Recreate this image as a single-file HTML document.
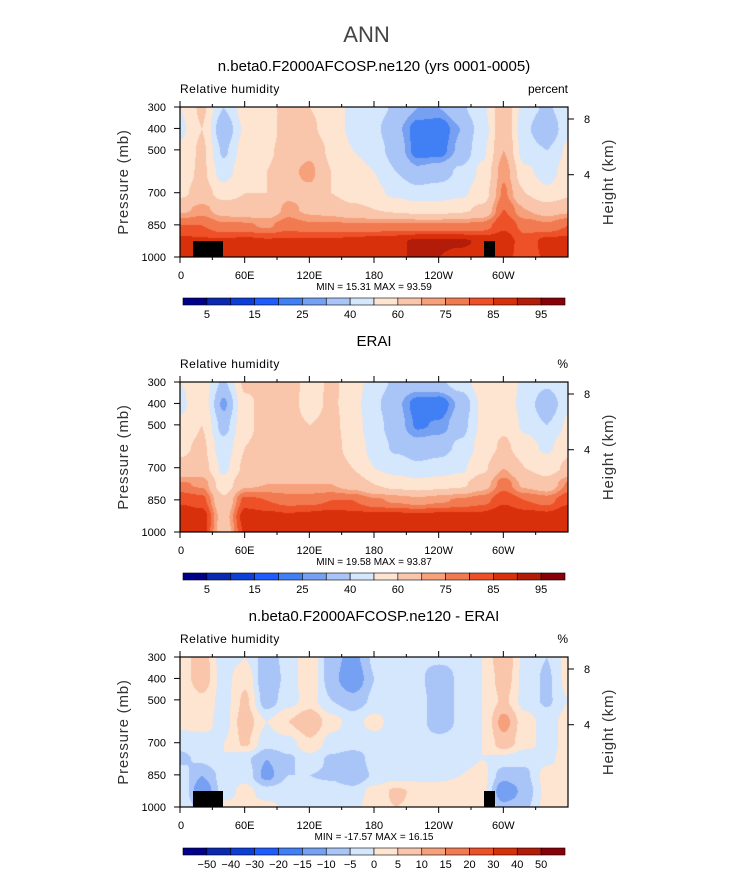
<!DOCTYPE html>
<html><head><meta charset="utf-8"><style>
body{margin:0;background:#fff;font-family:"Liberation Sans",sans-serif;}
#root{position:relative;width:733px;height:888px;overflow:hidden;}
.t{position:absolute;white-space:nowrap;color:#000;}
canvas{position:absolute;}
</style></head><body><div id="root">
<div class="t" style="left:0;width:733px;text-align:center;top:22px;font-size:22px;color:#444;">ANN</div>
<svg id="svg" width="733" height="888" style="position:absolute;left:0;top:0"></svg>
</div>
<script>
const lons=[0,20,40,60,80,100,120,140,160,180,200,220,240,260,280,300,320,340,360];
const levels=[300,400,500,600,700,775,850,925,1000];
const modelRH=[
[50,62,40,55,55,65,60,55,48,45,38,30,30,38,48,68,45,38,48],
[48,60,32,52,55,65,62,55,48,42,32,22,20,30,45,68,42,30,48],
[52,62,38,55,58,65,68,58,50,45,35,22,22,32,48,70,45,40,52],
[55,62,45,58,60,68,72,60,55,50,40,32,35,42,52,74,52,46,55],
[58,64,56,60,60,68,68,60,56,52,48,44,45,48,55,76,60,52,58],
[68,72,66,64,64,72,68,66,62,60,58,56,56,58,62,80,70,66,68],
[80,80,76,76,74,78,76,76,76,76,76,76,76,76,77,84,78,76,80],
[87,86,86,87,86,86,86,86,87,88,89,91,91,91,89,88,82,87,87],
[86,86,86,86,85,86,86,86,86,88,90,90,90,88,87,87,82,86,86]];
const eraiRH=[
[50,55,38,62,63,66,55,62,55,45,38,35,38,45,55,55,48,42,50],
[48,58,28,58,63,64,56,62,54,42,32,22,20,32,52,56,46,32,48],
[52,60,36,58,63,64,60,63,55,44,34,24,26,36,52,58,48,40,52],
[58,62,44,60,63,64,63,63,57,46,38,34,36,42,54,62,54,48,58],
[62,64,48,62,64,64,64,64,60,50,46,42,44,48,58,70,60,56,62],
[76,74,54,68,70,70,70,70,66,60,56,54,56,58,66,78,68,64,76],
[84,82,62,82,80,78,78,80,80,76,74,72,74,76,78,84,80,78,84],
[90,88,66,88,87,86,87,88,87,87,87,87,87,87,87,90,88,87,90],
[88,88,64,86,86,86,86,86,86,86,86,86,86,86,86,88,86,86,88]];
const diffRH=[
[2,8,-3,0,-8,-3,4,-8,-12,-4,-4,-4,-4,-4,0,10,-2,-5,2],
[2,8,-2,4,-10,-3,4,-8,-15,-5,-4,-4,-8,-4,0,8,-2,-6,2],
[0,4,-2,6,-8,-2,2,-5,-8,-4,-3,-3,-8,-4,0,6,-2,-6,0],
[2,2,-2,8,0,5,10,2,-2,2,-3,-3,-8,-4,0,12,2,-2,2],
[-4,-2,0,6,-3,-2,4,-2,-3,-3,-3,-3,-3,-3,0,8,2,-2,2],
[-6,-4,0,-4,-10,-6,-2,-6,-8,-3,-3,-3,-2,-2,0,-2,-4,-1,2],
[-2,-10,-3,-2,-12,-5,-5,-6,-10,-4,-2,-2,-1,0,2,-8,-6,2,2],
[0,-15,-3,2,-3,-2,-3,-2,-3,2,6,4,2,2,2,-15,-8,2,2],
[0,-8,2,2,2,-2,-3,-2,-2,4,5,4,2,2,2,-8,-6,2,2]];
const rhLevels=[5,10,15,20,25,30,40,50,60,70,75,80,85,90,95];
const rhLabels=["5","15","25","40","60","75","85","95"];
const diffLevels=[-50,-40,-30,-20,-15,-10,-5,0,5,10,15,20,30,40,50];
const diffLabels=["-50","-40","-30","-20","-15","-10","-5","0","5","10","15","20","30","40","50"];
const xTickLons=[0,60,120,180,240,300];
const xTickLabels=["0","60E","120E","180","120W","60W"];
const pTicks=[300,400,500,700,850,1000];
const hTicks=[8,4];const hTickP=[356,616];
const COLORS=["#00008a","#0a28b0","#0c3ed8","#1e5cff","#417ff5","#76a0f2","#a9c5f8","#d5e7fc","#fde5d2","#f9c6ab","#f6a07c","#f27a50","#ee5128","#d9300c","#b21c08","#880008"];
const panels=[
 {top:107,data:modelRH,lev:rhLevels,lab:rhLabels,title:"n.beta0.F2000AFCOSP.ne120 (yrs 0001-0005)",unit:"percent",mm:"MIN =   15.31   MAX =   93.59",land:true},
 {top:382,data:eraiRH,lev:rhLevels,lab:rhLabels,title:"ERAI",unit:"%",mm:"MIN =   19.58   MAX =   93.87",land:false},
 {top:657,data:diffRH,lev:diffLevels,lab:diffLabels,title:"n.beta0.F2000AFCOSP.ne120 - ERAI",unit:"%",mm:"MIN = -17.57   MAX =   16.15",land:true}];
const L=180,R=568,H=150;
const xs=lon=>L+(lon/360)*(R-L);
const ys=(p,top)=>top+(p-300)/700*H;
const svg=document.getElementById('svg');const root=document.getElementById('root');
const NS="http://www.w3.org/2000/svg";
function el(tag,attrs,parent){const e=document.createElementNS(NS,tag);for(const k in attrs)e.setAttribute(k,attrs[k]);(parent||svg).appendChild(e);return e;}
function txt(s,x,y,size,anchor,parent){const e=el('text',{x:x,y:y,'font-size':size,'text-anchor':anchor||'start','font-family':'Liberation Sans, sans-serif',fill:'#000'},parent);e.textContent=s;return e;}
function colorIdx(v,lev){let i=0;while(i<lev.length&&v>=lev[i])i++;return i;}
function interp(data,lon,p){
 let i=0;while(i<lons.length-2&&lon>lons[i+1])i++;
 let j=0;while(j<levels.length-2&&p>levels[j+1])j++;
 const tx=(lon-lons[i])/(lons[i+1]-lons[i]),ty=(p-levels[j])/(levels[j+1]-levels[j]);
 const a=data[j][i],b=data[j][i+1],c=data[j+1][i],d=data[j+1][i+1];
 const s=tx*tx*(3-2*tx),t=ty*ty*(3-2*ty);
 return (a*(1-s)+b*s)*(1-t)+(c*(1-s)+d*s)*t;}
function hex(c){return [parseInt(c.substr(1,2),16),parseInt(c.substr(3,2),16),parseInt(c.substr(5,2),16)];}
const RGB=COLORS.map(hex);
panels.forEach((pn,k)=>{
 const top=pn.top;
 const cv=document.createElement('canvas');cv.width=R-L;cv.height=H;cv.style.left=L+'px';cv.style.top=top+'px';
 
 
 root.insertBefore(cv,svg);
 const ctx=cv.getContext('2d');const img=ctx.createImageData(R-L,H);
 for(let y=0;y<H;y++)for(let x=0;x<R-L;x++){
  const v=interp(pn.data,x/(R-L)*360,300+y/H*700);const c=RGB[colorIdx(v,pn.lev)];
  const o=(y*(R-L)+x)*4;img.data[o]=c[0];img.data[o+1]=c[1];img.data[o+2]=c[2];img.data[o+3]=255;}
 ctx.putImageData(img,0,0);
 const g=el('g',{});
 if(pn.land){el('rect',{x:193,y:top+134,width:30,height:16,fill:'#000'},g);el('rect',{x:484,y:top+134,width:11,height:16,fill:'#000'},g);}
 el('rect',{x:L,y:top,width:R-L,height:H,fill:'none',stroke:'#000','stroke-width':1.2},g);
 for(let lon=0;lon<=330;lon+=30){const x=xs(lon),len=lon%60?3:6;
  el('line',{x1:x,y1:top,x2:x,y2:top-len,stroke:'#000'},g);el('line',{x1:x,y1:top+H,x2:x,y2:top+H+len,stroke:'#000'},g);}
 xTickLons.forEach((lon,i)=>{const t=txt(xTickLabels[i],xs(lon)+(i==0?-2:0),top+H+22,11,i==0?'start':'middle',g);});
 pTicks.forEach(p=>{const y=ys(p,top);el('line',{x1:L,y1:y,x2:L-6,y2:y,stroke:'#000'},g);txt(String(p),166,y+4,11,'end',g);});
 hTicks.forEach((h,i)=>{const y=ys(hTickP[i],top);el('line',{x1:R,y1:y,x2:R+6,y2:y,stroke:'#000'},g);txt(String(h),584,y+4,11,'start',g);});
 const yt=txt('Pressure (mb)',0,0,15,'middle',g);yt.setAttribute('transform','translate(128,'+(top+75)+') rotate(-90)');yt.setAttribute('fill','#333');yt.setAttribute('letter-spacing','0.8');
 const ht=txt('Height (km)',0,0,15,'middle',g);ht.setAttribute('transform','translate(613,'+(top+75)+') rotate(-90)');ht.setAttribute('fill','#333');ht.setAttribute('letter-spacing','0.8');
 txt(pn.title,374,top-36,15,'middle',g);
 txt('Relative humidity',180,top-14,12,'start',g).setAttribute('letter-spacing','0.5');
 txt(pn.unit,568,top-14,12,'end',g);
 txt(pn.mm,374,top+H+33,10,'middle',g);
 const cb=el('g',{},g);
 const cx0=183,cw=382/16,cy=top+191;
 COLORS.forEach((c,i)=>el('rect',{x:cx0+i*cw,y:cy,width:cw,height:7,fill:c,stroke:'#000','stroke-width':0.6},cb));
 const step=pn.lab.length===8?2:1;
 pn.lab.forEach((s,i)=>{const bi=step==2?i*2:i;txt(s.replace('-','\u2212'),cx0+(bi+1)*cw,cy+20,11,'middle',cb);});
});
</script></body></html>
